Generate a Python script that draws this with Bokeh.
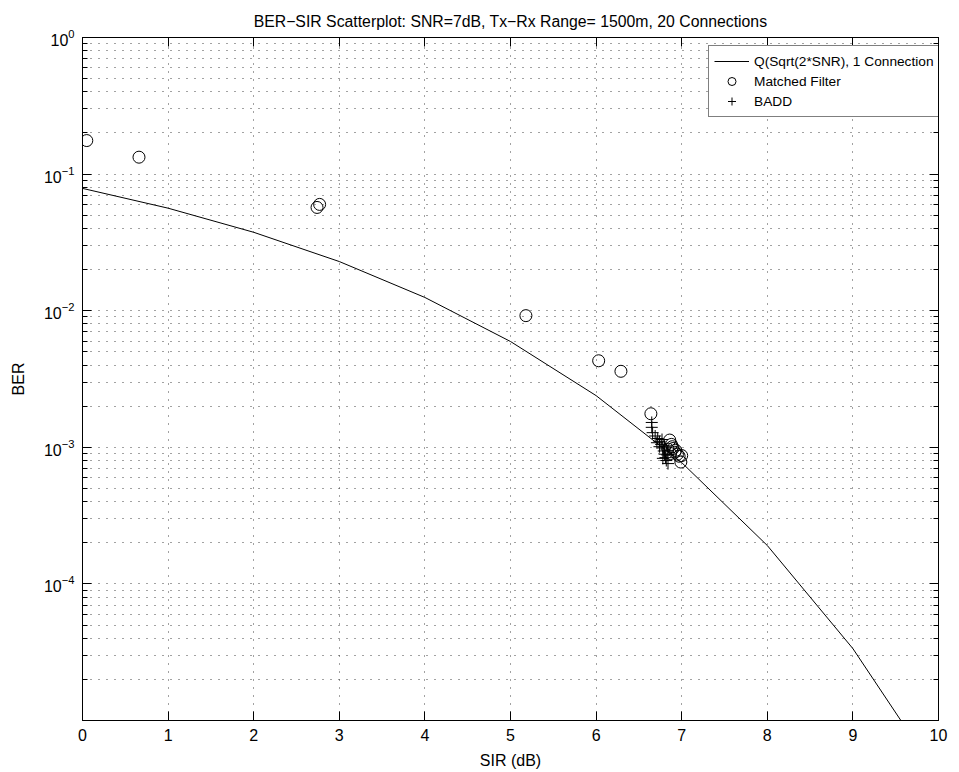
from bokeh.plotting import figure
from bokeh.models import (FixedTicker, LogAxis, LinearAxis, Legend, LegendItem,
                          ColumnDataSource, Range1d, CustomJSTickFormatter)
from bokeh.embed import file_html
from bokeh.resources import INLINE

# ---- data ----
theory_sir = [0, 1, 2, 3, 4, 5, 6, 7, 8, 9, 10]
theory_ber = [0.0786, 0.0563, 0.0375, 0.0229, 0.0125, 0.00595, 0.00239,
              0.000773, 0.000191, 3.36e-5, 3.87e-6]

mf_sir = [0.05, 0.66, 2.74, 2.77, 5.18, 6.03, 6.29, 6.64, 6.86, 6.88,
          6.90, 6.92, 6.95, 6.97, 7.00, 6.99, 6.93, 6.87, 6.89, 6.84]
mf_ber = [0.176, 0.133, 0.057, 0.060, 0.0092, 0.0043, 0.0036, 0.00176,
          0.00113, 0.00105, 0.00098, 0.00092, 0.00089, 0.00086, 0.00087,
          0.00078, 0.00095, 0.00090, 0.00101, 0.00097]

badd_sir = [6.65, 6.65, 6.66, 6.69, 6.72, 6.74, 6.76, 6.78, 6.79, 6.80,
            6.81, 6.82, 6.84, 6.78, 6.74, 6.80, 6.84, 6.71, 6.77, 6.83]
badd_ber = [0.00152, 0.00140, 0.00128, 0.00121, 0.00116, 0.00110, 0.00105,
            0.00099, 0.00094, 0.00089, 0.00084, 0.00080, 0.00076, 0.00083,
            0.00101, 0.00102, 0.00094, 0.00108, 0.00114, 0.00088]

x_ticks = [0, 1, 2, 3, 4, 5, 6, 7, 8, 9, 10]
y_major = [1e-4, 1e-3, 1e-2, 1e-1, 1e0]
decades = [1e-5, 1e-4, 1e-3, 1e-2, 1e-1]
y_minor = [m * d for d in decades for m in range(2, 10)]

title_text = "BER\u2212SIR Scatterplot: SNR=7dB, Tx\u2212Rx Range= 1500m, 20 Connections"
FONT = "Liberation Sans"

p = figure(width=959, height=772, y_axis_type="log",
           x_range=Range1d(0, 10), y_range=Range1d(1e-5, 1),
           output_backend="svg", toolbar_location=None,
           title=title_text,
           min_border_left=82, min_border_right=21,
           min_border_top=37, min_border_bottom=52)

p.background_fill_color = "white"
p.border_fill_color = "white"
p.outline_line_color = "black"
p.outline_line_width = 1

p.title.align = "center"
p.title.text_font = FONT
p.title.text_font_size = "15.8px"
p.title.text_font_style = "normal"
p.title.text_color = "black"
p.title.standoff = 15

yt = FixedTicker(ticks=y_major, minor_ticks=y_minor)
xt = FixedTicker(ticks=x_ticks, minor_ticks=[])

for ax in p.xaxis:
    ax.ticker = xt
    ax.axis_label = "SIR (dB)"
for ax in p.yaxis:
    ax.ticker = yt
    ax.axis_label = "BER"

for ax in list(p.xaxis) + list(p.yaxis):
    ax.axis_label_text_font = FONT
    ax.axis_label_text_font_size = "16px"
    ax.axis_label_text_font_style = "normal"
    ax.axis_label_text_color = "black"
    ax.major_label_text_font = FONT
    ax.major_label_text_font_size = "16px"
    ax.major_label_text_color = "black"
    ax.major_tick_in = 9
    ax.major_tick_out = 0
    ax.minor_tick_in = 5
    ax.minor_tick_out = 0
    ax.axis_line_color = "black"
    ax.major_tick_line_color = "black"
    ax.minor_tick_line_color = "black"
    ax.major_label_standoff = 8

p.xaxis.axis_label_standoff = 8
p.yaxis.axis_label_standoff = 14

# mirrored ticks on top and right (box on), labels blank
top = LinearAxis(ticker=FixedTicker(ticks=x_ticks, minor_ticks=[]),
                 formatter=CustomJSTickFormatter(code="return '';"),
                 major_label_text_font_size="1px",
                 major_tick_in=9,
                 major_tick_out=0, minor_tick_in=0, minor_tick_out=0,
                 axis_line_color="black", major_label_standoff=0,
                 axis_label_standoff=0)
right = LogAxis(ticker=FixedTicker(ticks=y_major, minor_ticks=y_minor),
                formatter=CustomJSTickFormatter(code="return '';"),
                major_label_text_font_size="1px",
                major_tick_in=9,
                major_tick_out=0, minor_tick_in=5, minor_tick_out=0,
                axis_line_color="black", major_label_standoff=0,
                axis_label_standoff=0)
p.add_layout(top, "above")
p.add_layout(right, "right")

# grid
p.xgrid.ticker = xt
p.ygrid.ticker = yt
for g in [p.xgrid[0], p.ygrid[0]]:
    g.grid_line_color = "#444444"
    g.grid_line_dash = "1 7"
    g.grid_line_width = 1
p.ygrid.minor_grid_line_color = "#444444"
p.ygrid.minor_grid_line_dash = "1 7"
p.ygrid.minor_grid_line_width = 1

line_src = ColumnDataSource(dict(x=theory_sir, y=theory_ber))
mf_src = ColumnDataSource(dict(x=mf_sir, y=mf_ber))
badd_src = ColumnDataSource(dict(x=badd_sir, y=badd_ber))

r_line = p.line("x", "y", source=line_src, line_color="black", line_width=1)
r_mf = p.scatter("x", "y", source=mf_src, marker="circle", size=12,
                 fill_color=None, line_color="black", line_width=1)
r_badd = p.scatter("x", "y", source=badd_src, marker="cross", size=12,
                   line_color="black", line_width=1)

legend = Legend(items=[
    LegendItem(label="Q(Sqrt(2*SNR), 1 Connection", renderers=[r_line]),
    LegendItem(label="Matched Filter", renderers=[r_mf]),
    LegendItem(label="BADD", renderers=[r_badd]),
], location=(626, 603))
legend.margin = 0
legend.padding = 5
legend.spacing = 0
legend.glyph_width = 35
legend.glyph_height = 20
legend.label_height = 20
legend.label_standoff = 5
legend.label_text_font = FONT
legend.label_text_font_size = "13.7px"
legend.label_text_color = "black"
legend.border_line_color = "black"
legend.border_line_width = 1
legend.background_fill_color = "white"
legend.background_fill_alpha = 1
p.add_layout(legend)

open("out.html", "w").write(file_html(p, INLINE))
